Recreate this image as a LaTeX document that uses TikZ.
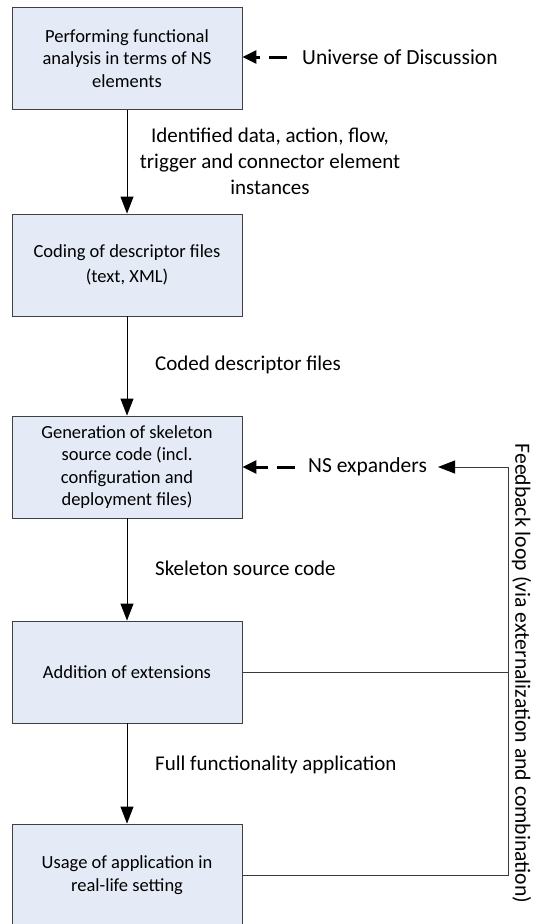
\documentclass[tikz,border=0pt]{standalone}
\usepackage{fontspec}
\setmainfont{Carlito}
\usetikzlibrary{arrows.meta}
\definecolor{boxfill}{HTML}{E4EBF6}
\definecolor{boxline}{HTML}{404040}
\definecolor{loopline}{HTML}{3A3A3A}
\begin{document}
\begin{tikzpicture}[x=1pt,y=-1pt,
  stage/.style={draw=boxline, fill=boxfill, line width=0.9pt,
    minimum width=230pt, minimum height=102pt, inner sep=0pt,
    align=center, font=\fontsize{18.5}{22.5}\selectfont},
  flow/.style={draw=black, line width=0.9pt,
    -{Triangle[length=17pt,width=13pt]}},
  dashin/.style={draw=black, line width=3pt, dash pattern=on 18pt off 9pt,
    -{Triangle[length=14pt,width=13pt]}},
  loop/.style={draw=loopline, line width=0.9pt},
  lab/.style={font=\fontsize{21}{26}\selectfont, align=center, inner sep=0pt},
  side/.style={font=\fontsize{21.5}{26}\selectfont, inner sep=0pt}]
\useasboundingbox (0,0) rectangle (534,924);

% process stages
\node[stage] (s1) at (127,58.5) {Performing functional\\analysis in terms of NS\\elements};
\node[stage] (s2) at (127,265) {Coding of descriptor files\\[3pt](text, XML)};
\node[stage] (s3) at (127,467) {Generation of skeleton\\source code (incl.\\configuration and\\deployment files)};
\node[stage] (s4) at (127,672) {Addition of extensions};
\node[stage] (s5) at (127,875) {Usage of application in\\real-life setting};

% main flow
\draw[flow] (s1) -- (s2);
\draw[flow] (s2) -- (s3);
\draw[flow] (s3) -- (s4);
\draw[flow] (s4) -- (s5);

% flow labels
\node[lab] (l1) at (270,161) {Identified data, action, flow,\\trigger and connector element\\instances};
\node[lab, anchor=west] (l2) at (155,365) {Coded descriptor files};
\node[lab, anchor=west] (l3) at (155,568) {Skeleton source code};
\node[lab, anchor=west] (l4) at (155,765) {Full functionality application};

% external inputs
\node[side, anchor=west] (uod) at (302,57) {Universe of Discussion};
\coordinate (uodin) at (287,57);
\draw[dashin] (uodin) -- (s1.east |- uodin);

\node[side, anchor=west] (nsx) at (308,467) {NS expanders};
\coordinate (nsxin) at (295,467);
\coordinate (nsxout) at (438,467);
\draw[dashin] (nsxin) -- (s3.east |- nsxin);

% feedback loop
\coordinate (fbtop) at (508,467);
\coordinate (fbbot) at (508,875);
\draw[loop, -{Triangle[length=17pt,width=13pt,color=black]}] (s5.east) -- (fbbot) -- (fbtop) -- (nsxout);
\draw[loop] (s4.east) -- (s4.east -| fbtop);
\node[side, font=\fontsize{21.7}{26}\selectfont, rotate=-90] (fbl) at (521.5,673.5) {Feedback loop (via externalization and combination)};
\end{tikzpicture}
\end{document}
